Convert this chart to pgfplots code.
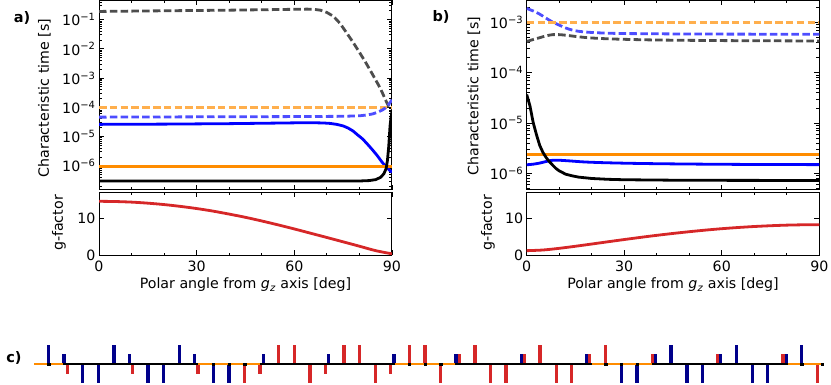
\documentclass[border=0pt]{standalone}
\usepackage{fontspec}
\setmainfont{DejaVu Sans}
\usepackage{pgfplots}
\pgfplotsset{compat=1.18}

\definecolor{cblue}{HTML}{0000FF}
\definecolor{corange}{HTML}{FF8C00}
\definecolor{cred}{HTML}{D62728}
\definecolor{cnavy}{HTML}{00008B}
\definecolor{dgray}{HTML}{4D4D4D}
\definecolor{dblue}{HTML}{4D4DFF}
\definecolor{dorange}{HTML}{FFAF4D}

\pgfplotsset{
  panel/.style={scale only axis, xmin=0, xmax=90,
    xtick={0,30,60,90}, minor xtick={10,20,40,50,70,80},
    tick align=inside, major tick length=5pt, minor tick length=2.8pt,
    axis line style={line width=1pt}, every tick/.style={black, line width=0.8pt},
    /pgf/number format/assume math mode=true,
    xticklabel style={yshift=-1.5pt},
    font=\fontsize{14.2}{17}\selectfont},
  timeax/.style={panel, height=189.3pt, xticklabels={}},
  gax/.style={panel, height=63.1pt, ymin=0, ymax=17, ytick={0,10}},
  sol/.style={line width=2.8pt, line join=round},
  dsh/.style={line width=2.8pt, dash pattern=on 7.5pt off 3.3pt},
}

\begin{document}
\begin{tikzpicture}
\useasboundingbox (0,0) rectangle (831pt,385pt);

% ---- a) characteristic times
\begin{axis}[ymode=log, timeax, width=293pt, at={(99pt,195.2pt)}, anchor=south west,
  ymin=1.5e-7, ymax=0.45,
  ytick={1e-6,1e-5,1e-4,1e-3,1e-2,1e-1},
  yticklabels={10\textsuperscript{−6},10\textsuperscript{−5},10\textsuperscript{−4},10\textsuperscript{−3},10\textsuperscript{−2},10\textsuperscript{−1}},
  minor ytick={2e-7,3e-7,4e-7,5e-7,6e-7,7e-7,8e-7,9e-7,
    2e-6,3e-6,4e-6,5e-6,6e-6,7e-6,8e-6,9e-6,
    2e-5,3e-5,4e-5,5e-5,6e-5,7e-5,8e-5,9e-5,
    2e-4,3e-4,4e-4,5e-4,6e-4,7e-4,8e-4,9e-4,
    2e-3,3e-3,4e-3,5e-3,6e-3,7e-3,8e-3,9e-3,
    2e-2,3e-2,4e-2,5e-2,6e-2,7e-2,8e-2,9e-2,
    2e-1,3e-1,4e-1}]
  \addplot[dsh, dgray] coordinates {(0,0.19)(10,0.195)(20,0.2)(30,0.205)(40,0.21)(50,0.217)(60,0.225)(64,0.228)(66,0.224)(68,0.21)(70,0.175)(72,0.13)(74,0.075)(76,0.036)(78,0.017)(80,7.6e-3)(82,3.3e-3)(84,1.35e-3)(86,5.4e-4)(87,3.2e-4)(88,1.8e-4)(89,1.05e-4)(90,9e-5)};
  \addplot[dsh, dorange] coordinates {(0,1e-4)(90,1e-4)};
  \addplot[dsh, dblue] coordinates {(0,4.6e-5)(30,4.7e-5)(60,4.8e-5)(75,4.9e-5)(80,5.1e-5)(82,5.4e-5)(84,5.9e-5)(85.5,6.7e-5)(87,8e-5)(88,9.5e-5)(89,1.25e-4)(90,1.8e-4)};
  \addplot[sol, cblue] coordinates {(0,2.6e-5)(20,2.65e-5)(40,2.75e-5)(55,2.88e-5)(62,2.95e-5)(66,2.95e-5)(69,2.9e-5)(71,2.8e-5)(73,2.6e-5)(75,2.3e-5)(76.5,1.95e-5)(78,1.55e-5)(79.5,1.12e-5)(81,8.2e-6)(82.5,5.4e-6)(84,3.5e-6)(85.5,2.2e-6)(87,1.3e-6)(88,9.8e-7)(89,7.5e-7)(90,5.9e-7)};
  \addplot[sol, corange] coordinates {(0,9.5e-7)(90,9.5e-7)};
  \addplot[sol, black] coordinates {(0,3e-7)(80,3e-7)(83,3.1e-7)(85,3.35e-7)(86.5,4e-7)(87.5,5.3e-7)(88.2,8e-7)(88.6,1.5e-6)(89,4.6e-6)(89.4,2.3e-5)(89.7,4.5e-5)(90,7e-5)};
\end{axis}

% ---- a) g-factor
\begin{axis}[gax, width=293pt, at={(99pt,129.5pt)}, anchor=south west]
  \addplot[sol, cred, smooth] coordinates {(0,14.6)(5,14.54)(10,14.38)(15,14.10)(20,13.72)(25,13.23)(30,12.65)(35,11.96)(40,11.15)(45,10.28)(50,9.3)(55,8.25)(60,7.15)(65,6.0)(70,4.85)(75,3.68)(80,2.5)(85,1.3)(90,0.45)};
\end{axis}

% ---- b) characteristic times
\begin{axis}[ymode=log, timeax, width=292.6pt, at={(526.7pt,195.2pt)}, anchor=south west,
  ymin=4.7e-7, ymax=2.75e-3,
  ytick={1e-6,1e-5,1e-4,1e-3},
  yticklabels={10\textsuperscript{−6},10\textsuperscript{−5},10\textsuperscript{−4},10\textsuperscript{−3}},
  minor ytick={5e-7,6e-7,7e-7,8e-7,9e-7,
    2e-6,3e-6,4e-6,5e-6,6e-6,7e-6,8e-6,9e-6,
    2e-5,3e-5,4e-5,5e-5,6e-5,7e-5,8e-5,9e-5,
    2e-4,3e-4,4e-4,5e-4,6e-4,7e-4,8e-4,9e-4,2e-3}]
  \addplot[dsh, dblue, smooth] coordinates {(0,1.91e-3)(2,1.7e-3)(4,1.47e-3)(6,1.22e-3)(8,1.02e-3)(10,8.9e-4)(12,7.8e-4)(14,7.1e-4)(16,6.7e-4)(20,6.35e-4)(25,6.15e-4)(30,6.05e-4)(45,5.95e-4)(60,5.9e-4)(90,5.85e-4)};
  \addplot[dsh, dorange] coordinates {(0,1e-3)(90,1e-3)};
  \addplot[dsh, dgray, smooth] coordinates {(0,4.2e-4)(2,4.6e-4)(4,5.0e-4)(6,5.45e-4)(8,5.75e-4)(10,5.75e-4)(12,5.6e-4)(15,5.3e-4)(18,5.05e-4)(22,4.85e-4)(28,4.68e-4)(40,4.5e-4)(60,4.38e-4)(90,4.3e-4)};
  \addplot[sol, cblue, smooth] coordinates {(0,1.48e-6)(2,1.52e-6)(4,1.6e-6)(6,1.72e-6)(8,1.82e-6)(10,1.82e-6)(13,1.77e-6)(18,1.68e-6)(25,1.62e-6)(35,1.57e-6)(50,1.53e-6)(70,1.5e-6)(90,1.49e-6)};
  \addplot[sol, corange] coordinates {(0,2.34e-6)(90,2.34e-6)};
  \addplot[sol, black] coordinates {(0,3.7e-5)(1,2.2e-5)(2,1.02e-5)(3,5.9e-6)(4,3.6e-6)(5,2.6e-6)(6,2.05e-6)(7,1.7e-6)(8,1.45e-6)(9,1.25e-6)(10,1.12e-6)(12,9.6e-7)(14,8.9e-7)(16,8.4e-7)(20,7.9e-7)(25,7.6e-7)(30,7.45e-7)(45,7.3e-7)(60,7.25e-7)(90,7.2e-7)};
\end{axis}

% ---- b) g-factor
\begin{axis}[gax, width=292.6pt, at={(526.7pt,129.5pt)}, anchor=south west]
  \addplot[sol, cred, smooth] coordinates {(0,1.3)(5,1.48)(10,1.93)(15,2.49)(20,3.09)(25,3.70)(30,4.30)(35,4.88)(40,5.43)(45,5.94)(50,6.41)(55,6.84)(60,7.22)(65,7.54)(70,7.81)(75,8.02)(80,8.18)(85,8.27)(90,8.3)};
\end{axis}

% ---- c) pulse sequence
\begin{axis}[scale only axis, width=831pt, height=40pt, at={(0pt,0pt)}, anchor=south west,
  xmin=0, xmax=831, ymin=-21, ymax=19, axis lines=none, clip=false]
  % navy pulses
  \addplot[ycomb, cnavy, line width=3.2pt] coordinates {
    (48.7,18.7)(114,18.7)(179.3,18.7)(671,18.7)(736.3,18.7)(801.7,18.7)
    (64,10)(129.3,10)(194.7,10)(263.3,10)(328.7,10)(394,10)(456,10)(521.3,10)(587,10)(655,10)(720.3,10)(786.3,10)
    (82.7,-19.3)(98.3,-19.3)(148,-19.3)(163.7,-19.3)(213.3,-19.3)(229,-19.3)(621.3,-19.3)(637,-19.3)(687,-19.3)(702.3,-19.3)(752.3,-19.3)(767.7,-19.3)};
  % red pulses
  \addplot[ycomb, cred, line width=3.2pt] coordinates {
    (278.7,18.7)(294.5,18.7)(344,18.7)(359.7,18.7)(409.3,18.7)(425,18.7)(475,18.7)(540,18.7)(605.7,18.7)
    (459.3,10)(524.7,10)(589.7,10)(652.3,10)(717.7,10)(783,10)
    (244.7,-19.3)(310,-19.3)(375.3,-19.3)(440.7,-19.3)(490.7,-19.3)(506,-19.3)(556.2,-19.3)(571.7,-19.3)(817.7,-19.3)
    (67.3,-10.3)(132.7,-10.3)(198,-10.3)(260,-10.3)(325.3,-10.3)(390.7,-10.3)};
  % baseline
  \addplot[black, line width=1.7pt, unbounded coords=jump] coordinates {
    (62.7,0)(198,0) (nan,nan) (260,0)(395.3,0) (nan,nan) (454.7,0)(591.7,0) (nan,nan) (651.7,0)(788.3,0)};
  \addplot[corange, line width=1.9pt, unbounded coords=jump] coordinates {
    (34,0)(62.7,0) (nan,nan) (198,0)(260,0) (nan,nan) (395.3,0)(454.7,0) (nan,nan) (591.7,0)(651.7,0) (nan,nan) (788.3,0)(822.5,0)};
  \addplot[only marks, mark=square*, mark size=1.2pt, black] coordinates {
    (48.7,0)(213.3,0)(229,0)(244.7,0)(409.3,0)(425,0)(440.7,0)(605.7,0)(621.3,0)(637,0)(801.7,0)(822,0)};
\end{axis}

% ---- labels
\begin{scope}[font=\fontsize{14.2}{17}\selectfont]
  \node[rotate=90] at (44.5pt,287pt) {Characteristic time [s]};
  \node[rotate=90] at (59pt,162pt) {g-factor};
  \node[rotate=90] at (474pt,289pt) {Characteristic time [s]};
  \node[rotate=90] at (488pt,162pt) {g-factor};
  \node at (245.5pt,100pt) {Polar angle from \textit{g}\textsubscript{\textit{z}} axis [deg]};
  \node at (673pt,100pt) {Polar angle from \textit{g}\textsubscript{\textit{z}} axis [deg]};
  \node[font=\fontsize{14.5}{17}\selectfont\bfseries] at (22pt,367pt) {a)};
  \node[font=\fontsize{14.5}{17}\selectfont\bfseries] at (441pt,368pt) {b)};
  \node[font=\fontsize{14.5}{17}\selectfont\bfseries] at (14pt,27pt) {c)};
\end{scope}
\end{tikzpicture}
\end{document}
